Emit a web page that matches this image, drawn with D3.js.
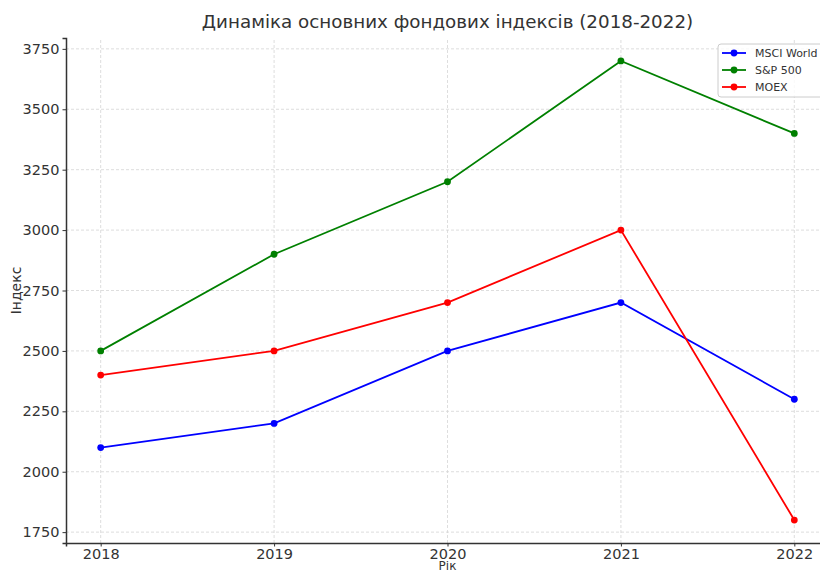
<!DOCTYPE html>
<html>
<head>
<meta charset="utf-8">
<script src="https://cdn.jsdelivr.net/npm/d3@7"></script>
<style>
  body { margin: 0; background: #fff; }
  svg, svg text { font-family: "DejaVu Sans", sans-serif; }
</style>
</head>
<body>
<div id="chart"></div>
<script>
var years = [2018, 2019, 2020, 2021, 2022];
var msciWorld = [2100, 2200, 2500, 2700, 2300];
var sp500 = [2500, 2900, 3200, 3700, 3400];
var moex = [2400, 2500, 2700, 3000, 1800];
var yTicks = [1750, 2000, 2250, 2500, 2750, 3000, 3250, 3500, 3750];

var series = [
  {name: "MSCI World", values: msciWorld, color: "#0000ff"},
  {name: "S&P 500", values: sp500, color: "#008000"},
  {name: "MOEX", values: moex, color: "#ff0000"}
];

var width = 820, height = 573;
var margin = {top: 38, left: 66, bottom: 30, right: -9};

var svg = d3.select("#chart").append("svg")
  .attr("width", width)
  .attr("height", height);

var x = d3.scaleLinear()
  .domain([2017.8, 2022.2])
  .range([margin.left, width - margin.right]);

var y = d3.scaleLinear()
  .domain([1705, 3795])
  .range([height - margin.bottom, margin.top]);

// grid
var grid = svg.append("g");
grid.selectAll(".gx").data(years).enter().append("line")
  .attr("x1", d => x(d)).attr("x2", d => x(d))
  .attr("y1", y.range()[0]).attr("y2", y.range()[1])
  .attr("stroke", "#d6d6d6").attr("stroke-width", 0.8)
  .attr("stroke-dasharray", "3,2");
grid.selectAll(".gy").data(yTicks).enter().append("line")
  .attr("x1", x.range()[0]).attr("x2", x.range()[1])
  .attr("y1", d => y(d)).attr("y2", d => y(d))
  .attr("stroke", "#d6d6d6").attr("stroke-width", 0.8)
  .attr("stroke-dasharray", "3,2");

// axes
var xAxis = svg.append("g")
  .attr("transform", "translate(0," + y.range()[0] + ")")
  .call(d3.axisBottom(x).tickValues(years).tickFormat(d3.format("d")).tickSizeOuter(0).tickSize(3.5).tickPadding(2));
var yAxis = svg.append("g")
  .attr("transform", "translate(" + x.range()[0] + ",0)")
  .call(d3.axisLeft(y).tickValues(yTicks).tickFormat(d3.format("d")).tickSizeOuter(0).tickSize(3.5).tickPadding(3));

[xAxis, yAxis].forEach(function(a) {
  a.attr("font-family", "DejaVu Sans, sans-serif").attr("font-size", 14.5);
  a.select(".domain").attr("stroke", "#333").attr("stroke-width", 1.5);
  a.selectAll(".tick line").attr("stroke", "#333");
  a.selectAll(".tick text").attr("fill", "#333");
});

// lines
var line = d3.line()
  .x((d, i) => x(years[i]))
  .y(d => y(d));

series.forEach(function(s) {
  svg.append("path")
    .datum(s.values)
    .attr("d", line)
    .attr("fill", "none")
    .attr("stroke", s.color)
    .attr("stroke-width", 1.8);
  svg.selectAll(null).data(s.values).enter().append("circle")
    .attr("cx", (d, i) => x(years[i]))
    .attr("cy", d => y(d))
    .attr("r", 3.4)
    .attr("fill", s.color);
});

// title & labels
svg.append("text")
  .attr("x", (x.range()[0] + x.range()[1]) / 2)
  .attr("y", 28)
  .attr("text-anchor", "middle")
  .attr("fill", "#333")
  .attr("font-size", 18.3)
  .text("Динаміка основних фондових індексів (2018-2022)");

svg.append("text")
  .attr("x", (x.range()[0] + x.range()[1]) / 2)
  .attr("y", 569.5)
  .attr("text-anchor", "middle")
  .attr("fill", "#333")
  .attr("font-size", 12)
  .text("Рік");

svg.append("text")
  .attr("transform", "translate(21," + ((y.range()[0] + y.range()[1]) / 2) + ") rotate(-90)")
  .attr("text-anchor", "middle")
  .attr("fill", "#333")
  .attr("font-size", 14)
  .text("Індекс");

// legend
var legend = svg.append("g").attr("transform", "translate(718,44)");
legend.append("rect")
  .attr("width", 120).attr("height", 53).attr("rx", 3)
  .attr("fill", "#fff").attr("fill-opacity", 0.8)
  .attr("stroke", "#ccc");
series.forEach(function(s, i) {
  var row = legend.append("g").attr("transform", "translate(0," + (9 + i * 17) + ")");
  row.append("line").attr("x1", 4).attr("x2", 28).attr("stroke", s.color).attr("stroke-width", 1.8);
  row.append("circle").attr("cx", 16).attr("r", 3.4).attr("fill", s.color);
  row.append("text").attr("x", 37).attr("dy", "0.35em")
    .attr("fill", "#333").attr("font-size", 11).text(s.name);
});
</script>
</body>
</html>
